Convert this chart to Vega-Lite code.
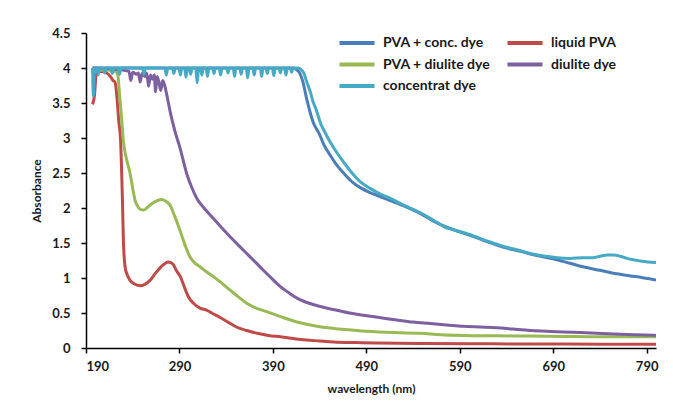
{
  "$schema": "https://vega.github.io/schema/vega-lite/v6.json",
  "width": 570,
  "height": 315,
  "autosize": {"type": "none"},
  "padding": {"left": 86, "top": 33, "right": 17, "bottom": 60},
  "background": "white",
  "config": {
    "view": {"stroke": null},
    "font": "Lato",
    "axis": {
      "grid": false,
      "domainColor": "#000000",
      "domainWidth": 1.5,
      "tickColor": "#000000",
      "tickWidth": 1.5,
      "tickSize": 5,
      "labelFont": "Lato",
      "labelFontWeight": "bold",
      "labelFontSize": 13,
      "labelColor": "#1a1a1a",
      "titleFont": "Lato",
      "titleFontWeight": "bold",
      "titleFontSize": 12,
      "titleColor": "#1a1a1a"
    },
    "legend": {
      "labelFont": "Lato",
      "labelFontWeight": "bold",
      "labelFontSize": 14,
      "labelColor": "#1a1a1a"
    }
  },
  "data": {
    "values": [
      {"series": "PVA + conc. dye", "wl": 197, "abs": 4.0},
      {"series": "PVA + conc. dye", "wl": 230, "abs": 4.0},
      {"series": "PVA + conc. dye", "wl": 300, "abs": 4.0},
      {"series": "PVA + conc. dye", "wl": 380, "abs": 4.0},
      {"series": "PVA + conc. dye", "wl": 412, "abs": 4.0},
      {"series": "PVA + conc. dye", "wl": 416, "abs": 3.97},
      {"series": "PVA + conc. dye", "wl": 419, "abs": 3.92},
      {"series": "PVA + conc. dye", "wl": 422, "abs": 3.81},
      {"series": "PVA + conc. dye", "wl": 426, "abs": 3.57},
      {"series": "PVA + conc. dye", "wl": 433, "abs": 3.23},
      {"series": "PVA + conc. dye", "wl": 440, "abs": 3.05},
      {"series": "PVA + conc. dye", "wl": 444, "abs": 2.92},
      {"series": "PVA + conc. dye", "wl": 451, "abs": 2.76},
      {"series": "PVA + conc. dye", "wl": 458, "abs": 2.62},
      {"series": "PVA + conc. dye", "wl": 467, "abs": 2.48},
      {"series": "PVA + conc. dye", "wl": 476, "abs": 2.36},
      {"series": "PVA + conc. dye", "wl": 485, "abs": 2.28},
      {"series": "PVA + conc. dye", "wl": 494, "abs": 2.22},
      {"series": "PVA + conc. dye", "wl": 505, "abs": 2.16},
      {"series": "PVA + conc. dye", "wl": 515, "abs": 2.11},
      {"series": "PVA + conc. dye", "wl": 530, "abs": 2.03},
      {"series": "PVA + conc. dye", "wl": 548, "abs": 1.92},
      {"series": "PVA + conc. dye", "wl": 565, "abs": 1.79},
      {"series": "PVA + conc. dye", "wl": 583, "abs": 1.69},
      {"series": "PVA + conc. dye", "wl": 601, "abs": 1.61},
      {"series": "PVA + conc. dye", "wl": 619, "abs": 1.52},
      {"series": "PVA + conc. dye", "wl": 637, "abs": 1.44},
      {"series": "PVA + conc. dye", "wl": 655, "abs": 1.38},
      {"series": "PVA + conc. dye", "wl": 669, "abs": 1.33},
      {"series": "PVA + conc. dye", "wl": 694, "abs": 1.26},
      {"series": "PVA + conc. dye", "wl": 708, "abs": 1.21},
      {"series": "PVA + conc. dye", "wl": 722, "abs": 1.16},
      {"series": "PVA + conc. dye", "wl": 740, "abs": 1.11},
      {"series": "PVA + conc. dye", "wl": 758, "abs": 1.06},
      {"series": "PVA + conc. dye", "wl": 778, "abs": 1.02},
      {"series": "PVA + conc. dye", "wl": 800, "abs": 0.97},

      {"series": "liquid PVA", "wl": 197, "abs": 3.48},
      {"series": "liquid PVA", "wl": 199, "abs": 3.6},
      {"series": "liquid PVA", "wl": 201, "abs": 3.92},
      {"series": "liquid PVA", "wl": 206, "abs": 3.95},
      {"series": "liquid PVA", "wl": 212, "abs": 3.93},
      {"series": "liquid PVA", "wl": 216, "abs": 3.88},
      {"series": "liquid PVA", "wl": 219, "abs": 3.82},
      {"series": "liquid PVA", "wl": 221, "abs": 3.8},
      {"series": "liquid PVA", "wl": 223, "abs": 3.6},
      {"series": "liquid PVA", "wl": 225, "abs": 3.25},
      {"series": "liquid PVA", "wl": 227, "abs": 2.97},
      {"series": "liquid PVA", "wl": 228.2, "abs": 2.5},
      {"series": "liquid PVA", "wl": 229.2, "abs": 2.0},
      {"series": "liquid PVA", "wl": 230, "abs": 1.54},
      {"series": "liquid PVA", "wl": 231.8, "abs": 1.16},
      {"series": "liquid PVA", "wl": 234, "abs": 1.05},
      {"series": "liquid PVA", "wl": 237, "abs": 0.97},
      {"series": "liquid PVA", "wl": 241, "abs": 0.92},
      {"series": "liquid PVA", "wl": 248, "abs": 0.89},
      {"series": "liquid PVA", "wl": 253, "abs": 0.91},
      {"series": "liquid PVA", "wl": 258, "abs": 0.96},
      {"series": "liquid PVA", "wl": 265, "abs": 1.08},
      {"series": "liquid PVA", "wl": 272, "abs": 1.18},
      {"series": "liquid PVA", "wl": 278, "abs": 1.23},
      {"series": "liquid PVA", "wl": 283, "abs": 1.2},
      {"series": "liquid PVA", "wl": 287, "abs": 1.1},
      {"series": "liquid PVA", "wl": 291, "abs": 1.02},
      {"series": "liquid PVA", "wl": 295, "abs": 0.88},
      {"series": "liquid PVA", "wl": 300, "abs": 0.72},
      {"series": "liquid PVA", "wl": 305, "abs": 0.64},
      {"series": "liquid PVA", "wl": 312, "abs": 0.57},
      {"series": "liquid PVA", "wl": 319, "abs": 0.54},
      {"series": "liquid PVA", "wl": 326, "abs": 0.49},
      {"series": "liquid PVA", "wl": 333, "abs": 0.44},
      {"series": "liquid PVA", "wl": 342, "abs": 0.37},
      {"series": "liquid PVA", "wl": 351, "abs": 0.30},
      {"series": "liquid PVA", "wl": 362, "abs": 0.25},
      {"series": "liquid PVA", "wl": 373, "abs": 0.21},
      {"series": "liquid PVA", "wl": 385, "abs": 0.18},
      {"series": "liquid PVA", "wl": 398, "abs": 0.16},
      {"series": "liquid PVA", "wl": 420, "abs": 0.12},
      {"series": "liquid PVA", "wl": 440, "abs": 0.1},
      {"series": "liquid PVA", "wl": 455, "abs": 0.086},
      {"series": "liquid PVA", "wl": 480, "abs": 0.077},
      {"series": "liquid PVA", "wl": 500, "abs": 0.072},
      {"series": "liquid PVA", "wl": 548, "abs": 0.063},
      {"series": "liquid PVA", "wl": 600, "abs": 0.06},
      {"series": "liquid PVA", "wl": 650, "abs": 0.058},
      {"series": "liquid PVA", "wl": 700, "abs": 0.056},
      {"series": "liquid PVA", "wl": 750, "abs": 0.055},
      {"series": "liquid PVA", "wl": 800, "abs": 0.055},

      {"series": "PVA + diulite dye", "wl": 197, "abs": 3.95},
      {"series": "PVA + diulite dye", "wl": 210, "abs": 3.97},
      {"series": "PVA + diulite dye", "wl": 222, "abs": 3.95},
      {"series": "PVA + diulite dye", "wl": 224, "abs": 3.9},
      {"series": "PVA + diulite dye", "wl": 226, "abs": 3.6},
      {"series": "PVA + diulite dye", "wl": 228, "abs": 3.3},
      {"series": "PVA + diulite dye", "wl": 229.9, "abs": 2.97},
      {"series": "PVA + diulite dye", "wl": 233, "abs": 2.72},
      {"series": "PVA + diulite dye", "wl": 237.1, "abs": 2.5},
      {"series": "PVA + diulite dye", "wl": 240, "abs": 2.28},
      {"series": "PVA + diulite dye", "wl": 242.5, "abs": 2.11},
      {"series": "PVA + diulite dye", "wl": 245, "abs": 2.03},
      {"series": "PVA + diulite dye", "wl": 248, "abs": 1.98},
      {"series": "PVA + diulite dye", "wl": 252, "abs": 1.97},
      {"series": "PVA + diulite dye", "wl": 255, "abs": 2.0},
      {"series": "PVA + diulite dye", "wl": 258.5, "abs": 2.04},
      {"series": "PVA + diulite dye", "wl": 264, "abs": 2.09},
      {"series": "PVA + diulite dye", "wl": 271, "abs": 2.12},
      {"series": "PVA + diulite dye", "wl": 275, "abs": 2.1},
      {"series": "PVA + diulite dye", "wl": 280, "abs": 2.04},
      {"series": "PVA + diulite dye", "wl": 285, "abs": 1.88},
      {"series": "PVA + diulite dye", "wl": 290.6, "abs": 1.68},
      {"series": "PVA + diulite dye", "wl": 296, "abs": 1.47},
      {"series": "PVA + diulite dye", "wl": 301.3, "abs": 1.30},
      {"series": "PVA + diulite dye", "wl": 306, "abs": 1.22},
      {"series": "PVA + diulite dye", "wl": 312, "abs": 1.16},
      {"series": "PVA + diulite dye", "wl": 319, "abs": 1.09},
      {"series": "PVA + diulite dye", "wl": 326.3, "abs": 1.02},
      {"series": "PVA + diulite dye", "wl": 335, "abs": 0.93},
      {"series": "PVA + diulite dye", "wl": 344, "abs": 0.83},
      {"series": "PVA + diulite dye", "wl": 353, "abs": 0.73},
      {"series": "PVA + diulite dye", "wl": 362, "abs": 0.64},
      {"series": "PVA + diulite dye", "wl": 372, "abs": 0.57},
      {"series": "PVA + diulite dye", "wl": 383.5, "abs": 0.52},
      {"series": "PVA + diulite dye", "wl": 400, "abs": 0.44},
      {"series": "PVA + diulite dye", "wl": 419, "abs": 0.36},
      {"series": "PVA + diulite dye", "wl": 437, "abs": 0.31},
      {"series": "PVA + diulite dye", "wl": 455, "abs": 0.28},
      {"series": "PVA + diulite dye", "wl": 472, "abs": 0.26},
      {"series": "PVA + diulite dye", "wl": 490, "abs": 0.24},
      {"series": "PVA + diulite dye", "wl": 520, "abs": 0.22},
      {"series": "PVA + diulite dye", "wl": 548, "abs": 0.21},
      {"series": "PVA + diulite dye", "wl": 570, "abs": 0.19},
      {"series": "PVA + diulite dye", "wl": 594, "abs": 0.18},
      {"series": "PVA + diulite dye", "wl": 630, "abs": 0.175},
      {"series": "PVA + diulite dye", "wl": 665, "abs": 0.17},
      {"series": "PVA + diulite dye", "wl": 700, "abs": 0.165},
      {"series": "PVA + diulite dye", "wl": 737, "abs": 0.16},
      {"series": "PVA + diulite dye", "wl": 770, "abs": 0.16},
      {"series": "PVA + diulite dye", "wl": 800, "abs": 0.16},

      {"series": "diulite dye", "wl": 197, "abs": 4.0},
      {"series": "diulite dye", "wl": 230, "abs": 3.97},
      {"series": "diulite dye", "wl": 236, "abs": 3.95},
      {"series": "diulite dye", "wl": 238, "abs": 3.82},
      {"series": "diulite dye", "wl": 240, "abs": 3.94},
      {"series": "diulite dye", "wl": 244, "abs": 3.91},
      {"series": "diulite dye", "wl": 246, "abs": 3.93},
      {"series": "diulite dye", "wl": 248, "abs": 3.8},
      {"series": "diulite dye", "wl": 250, "abs": 3.92},
      {"series": "diulite dye", "wl": 253, "abs": 3.88},
      {"series": "diulite dye", "wl": 255, "abs": 3.93},
      {"series": "diulite dye", "wl": 257, "abs": 3.74},
      {"series": "diulite dye", "wl": 259, "abs": 3.9},
      {"series": "diulite dye", "wl": 261, "abs": 3.84},
      {"series": "diulite dye", "wl": 263, "abs": 3.9},
      {"series": "diulite dye", "wl": 264.5, "abs": 3.66},
      {"series": "diulite dye", "wl": 266, "abs": 3.88},
      {"series": "diulite dye", "wl": 268, "abs": 3.8},
      {"series": "diulite dye", "wl": 270, "abs": 3.68},
      {"series": "diulite dye", "wl": 272, "abs": 3.82},
      {"series": "diulite dye", "wl": 274, "abs": 3.76},
      {"series": "diulite dye", "wl": 276.4, "abs": 3.62},
      {"series": "diulite dye", "wl": 280, "abs": 3.38},
      {"series": "diulite dye", "wl": 285.3, "abs": 3.09},
      {"series": "diulite dye", "wl": 290.6, "abs": 2.86},
      {"series": "diulite dye", "wl": 297.8, "abs": 2.49},
      {"series": "diulite dye", "wl": 303, "abs": 2.3},
      {"series": "diulite dye", "wl": 308.5, "abs": 2.14},
      {"series": "diulite dye", "wl": 317, "abs": 1.99},
      {"series": "diulite dye", "wl": 326.3, "abs": 1.85},
      {"series": "diulite dye", "wl": 335, "abs": 1.72},
      {"series": "diulite dye", "wl": 344.2, "abs": 1.59},
      {"series": "diulite dye", "wl": 353, "abs": 1.47},
      {"series": "diulite dye", "wl": 362, "abs": 1.35},
      {"series": "diulite dye", "wl": 371, "abs": 1.23},
      {"series": "diulite dye", "wl": 379.8, "abs": 1.11},
      {"series": "diulite dye", "wl": 389, "abs": 0.99},
      {"series": "diulite dye", "wl": 397.7, "abs": 0.88},
      {"series": "diulite dye", "wl": 408, "abs": 0.78},
      {"series": "diulite dye", "wl": 419, "abs": 0.69},
      {"series": "diulite dye", "wl": 436, "abs": 0.61},
      {"series": "diulite dye", "wl": 454.5, "abs": 0.55},
      {"series": "diulite dye", "wl": 472, "abs": 0.5},
      {"series": "diulite dye", "wl": 490.5, "abs": 0.46},
      {"series": "diulite dye", "wl": 507, "abs": 0.43},
      {"series": "diulite dye", "wl": 522.7, "abs": 0.40},
      {"series": "diulite dye", "wl": 540, "abs": 0.37},
      {"series": "diulite dye", "wl": 558.3, "abs": 0.35},
      {"series": "diulite dye", "wl": 576, "abs": 0.33},
      {"series": "diulite dye", "wl": 593.6, "abs": 0.31},
      {"series": "diulite dye", "wl": 612, "abs": 0.30},
      {"series": "diulite dye", "wl": 629.7, "abs": 0.29},
      {"series": "diulite dye", "wl": 647, "abs": 0.27},
      {"series": "diulite dye", "wl": 665.4, "abs": 0.25},
      {"series": "diulite dye", "wl": 683, "abs": 0.24},
      {"series": "diulite dye", "wl": 700.7, "abs": 0.23},
      {"series": "diulite dye", "wl": 719, "abs": 0.22},
      {"series": "diulite dye", "wl": 736.8, "abs": 0.21},
      {"series": "diulite dye", "wl": 755, "abs": 0.20},
      {"series": "diulite dye", "wl": 777, "abs": 0.19},
      {"series": "diulite dye", "wl": 800, "abs": 0.18},

      {"series": "concentrat dye", "wl": 197, "abs": 4.0},
      {"series": "concentrat dye", "wl": 198, "abs": 3.6},
      {"series": "concentrat dye", "wl": 199, "abs": 4.0},
      {"series": "concentrat dye", "wl": 201.5, "abs": 4.0},
      {"series": "concentrat dye", "wl": 203, "abs": 3.9},
      {"series": "concentrat dye", "wl": 204.5, "abs": 4.0},
      {"series": "concentrat dye", "wl": 208.5, "abs": 4.0},
      {"series": "concentrat dye", "wl": 210, "abs": 3.93},
      {"series": "concentrat dye", "wl": 211.5, "abs": 4.0},
      {"series": "concentrat dye", "wl": 216.5, "abs": 4.0},
      {"series": "concentrat dye", "wl": 218, "abs": 3.92},
      {"series": "concentrat dye", "wl": 219.5, "abs": 4.0},
      {"series": "concentrat dye", "wl": 224.5, "abs": 4.0},
      {"series": "concentrat dye", "wl": 226, "abs": 3.91},
      {"series": "concentrat dye", "wl": 227.5, "abs": 4.0},
      {"series": "concentrat dye", "wl": 250.5, "abs": 4.0},
      {"series": "concentrat dye", "wl": 252, "abs": 3.91},
      {"series": "concentrat dye", "wl": 253.5, "abs": 4.0},
      {"series": "concentrat dye", "wl": 274.5, "abs": 4.0},
      {"series": "concentrat dye", "wl": 276, "abs": 3.9},
      {"series": "concentrat dye", "wl": 277.5, "abs": 4.0},
      {"series": "concentrat dye", "wl": 282.5, "abs": 4.0},
      {"series": "concentrat dye", "wl": 284, "abs": 3.92},
      {"series": "concentrat dye", "wl": 285.5, "abs": 4.0},
      {"series": "concentrat dye", "wl": 289.5, "abs": 4.0},
      {"series": "concentrat dye", "wl": 291, "abs": 3.9},
      {"series": "concentrat dye", "wl": 292.5, "abs": 4.0},
      {"series": "concentrat dye", "wl": 295.5, "abs": 4.0},
      {"series": "concentrat dye", "wl": 297, "abs": 3.87},
      {"series": "concentrat dye", "wl": 298.5, "abs": 4.0},
      {"series": "concentrat dye", "wl": 300.5, "abs": 4.0},
      {"series": "concentrat dye", "wl": 302, "abs": 3.91},
      {"series": "concentrat dye", "wl": 303.5, "abs": 4.0},
      {"series": "concentrat dye", "wl": 307.5, "abs": 4.0},
      {"series": "concentrat dye", "wl": 309, "abs": 3.79},
      {"series": "concentrat dye", "wl": 310.5, "abs": 4.0},
      {"series": "concentrat dye", "wl": 312.5, "abs": 4.0},
      {"series": "concentrat dye", "wl": 314, "abs": 3.9},
      {"series": "concentrat dye", "wl": 315.5, "abs": 4.0},
      {"series": "concentrat dye", "wl": 318.5, "abs": 4.0},
      {"series": "concentrat dye", "wl": 320, "abs": 3.88},
      {"series": "concentrat dye", "wl": 321.5, "abs": 4.0},
      {"series": "concentrat dye", "wl": 325.5, "abs": 4.0},
      {"series": "concentrat dye", "wl": 327, "abs": 3.92},
      {"series": "concentrat dye", "wl": 328.5, "abs": 4.0},
      {"series": "concentrat dye", "wl": 332.5, "abs": 4.0},
      {"series": "concentrat dye", "wl": 334, "abs": 3.9},
      {"series": "concentrat dye", "wl": 335.5, "abs": 4.0},
      {"series": "concentrat dye", "wl": 340.5, "abs": 4.0},
      {"series": "concentrat dye", "wl": 342, "abs": 3.93},
      {"series": "concentrat dye", "wl": 343.5, "abs": 4.0},
      {"series": "concentrat dye", "wl": 347.5, "abs": 4.0},
      {"series": "concentrat dye", "wl": 349, "abs": 3.88},
      {"series": "concentrat dye", "wl": 350.5, "abs": 4.0},
      {"series": "concentrat dye", "wl": 354.5, "abs": 4.0},
      {"series": "concentrat dye", "wl": 356, "abs": 3.91},
      {"series": "concentrat dye", "wl": 357.5, "abs": 4.0},
      {"series": "concentrat dye", "wl": 361.5, "abs": 4.0},
      {"series": "concentrat dye", "wl": 363, "abs": 3.86},
      {"series": "concentrat dye", "wl": 364.5, "abs": 4.0},
      {"series": "concentrat dye", "wl": 368.5, "abs": 4.0},
      {"series": "concentrat dye", "wl": 370, "abs": 3.9},
      {"series": "concentrat dye", "wl": 371.5, "abs": 4.0},
      {"series": "concentrat dye", "wl": 376.5, "abs": 4.0},
      {"series": "concentrat dye", "wl": 378, "abs": 3.88},
      {"series": "concentrat dye", "wl": 379.5, "abs": 4.0},
      {"series": "concentrat dye", "wl": 382.5, "abs": 4.0},
      {"series": "concentrat dye", "wl": 384, "abs": 3.92},
      {"series": "concentrat dye", "wl": 385.5, "abs": 4.0},
      {"series": "concentrat dye", "wl": 389.5, "abs": 4.0},
      {"series": "concentrat dye", "wl": 391, "abs": 3.89},
      {"series": "concentrat dye", "wl": 392.5, "abs": 4.0},
      {"series": "concentrat dye", "wl": 396.5, "abs": 4.0},
      {"series": "concentrat dye", "wl": 398, "abs": 3.93},
      {"series": "concentrat dye", "wl": 399.5, "abs": 4.0},
      {"series": "concentrat dye", "wl": 402.5, "abs": 4.0},
      {"series": "concentrat dye", "wl": 404, "abs": 3.9},
      {"series": "concentrat dye", "wl": 405.5, "abs": 4.0},
      {"series": "concentrat dye", "wl": 408.5, "abs": 4.0},
      {"series": "concentrat dye", "wl": 410, "abs": 3.94},
      {"series": "concentrat dye", "wl": 411.5, "abs": 4.0},
      {"series": "concentrat dye", "wl": 417, "abs": 4.0},
      {"series": "concentrat dye", "wl": 420, "abs": 3.98},
      {"series": "concentrat dye", "wl": 423, "abs": 3.93},
      {"series": "concentrat dye", "wl": 426, "abs": 3.81},
      {"series": "concentrat dye", "wl": 430, "abs": 3.66},
      {"series": "concentrat dye", "wl": 433, "abs": 3.52},
      {"series": "concentrat dye", "wl": 437, "abs": 3.38},
      {"series": "concentrat dye", "wl": 440.5, "abs": 3.23},
      {"series": "concentrat dye", "wl": 445, "abs": 3.1},
      {"series": "concentrat dye", "wl": 451, "abs": 2.95},
      {"series": "concentrat dye", "wl": 458, "abs": 2.8},
      {"series": "concentrat dye", "wl": 465.5, "abs": 2.66},
      {"series": "concentrat dye", "wl": 474, "abs": 2.51},
      {"series": "concentrat dye", "wl": 483, "abs": 2.38},
      {"series": "concentrat dye", "wl": 494, "abs": 2.28},
      {"series": "concentrat dye", "wl": 505, "abs": 2.2},
      {"series": "concentrat dye", "wl": 515, "abs": 2.14},
      {"series": "concentrat dye", "wl": 530, "abs": 2.04},
      {"series": "concentrat dye", "wl": 548, "abs": 1.93},
      {"series": "concentrat dye", "wl": 556, "abs": 1.87},
      {"series": "concentrat dye", "wl": 565, "abs": 1.8},
      {"series": "concentrat dye", "wl": 575, "abs": 1.72},
      {"series": "concentrat dye", "wl": 583, "abs": 1.69},
      {"series": "concentrat dye", "wl": 601, "abs": 1.62},
      {"series": "concentrat dye", "wl": 619, "abs": 1.53},
      {"series": "concentrat dye", "wl": 637, "abs": 1.45},
      {"series": "concentrat dye", "wl": 655, "abs": 1.39},
      {"series": "concentrat dye", "wl": 669, "abs": 1.34},
      {"series": "concentrat dye", "wl": 682, "abs": 1.31},
      {"series": "concentrat dye", "wl": 694, "abs": 1.29},
      {"series": "concentrat dye", "wl": 708, "abs": 1.28},
      {"series": "concentrat dye", "wl": 722, "abs": 1.29},
      {"series": "concentrat dye", "wl": 732, "abs": 1.29},
      {"series": "concentrat dye", "wl": 740, "abs": 1.31},
      {"series": "concentrat dye", "wl": 748, "abs": 1.33},
      {"series": "concentrat dye", "wl": 755, "abs": 1.33},
      {"series": "concentrat dye", "wl": 762, "abs": 1.31},
      {"series": "concentrat dye", "wl": 769, "abs": 1.28},
      {"series": "concentrat dye", "wl": 785, "abs": 1.24},
      {"series": "concentrat dye", "wl": 800, "abs": 1.22}
    ]
  },
  "mark": {"type": "line", "strokeWidth": 3, "interpolate": "monotone", "clip": true},
  "encoding": {
    "x": {
      "field": "wl",
      "type": "quantitative",
      "scale": {"domain": [190, 800], "nice": false, "zero": false},
      "axis": {"values": [190, 290, 390, 490, 590, 690, 790], "title": "wavelength (nm)", "labelPadding": 7, "titlePadding": 10}
    },
    "y": {
      "field": "abs",
      "type": "quantitative",
      "scale": {"domain": [0, 4.5], "nice": false},
      "axis": {"values": [0, 0.5, 1, 1.5, 2, 2.5, 3, 3.5, 4, 4.5], "format": "~g", "title": "Absorbance", "labelPadding": 11, "titlePadding": 8}
    },
    "color": {
      "field": "series",
      "type": "nominal",
      "scale": {
        "domain": ["PVA + conc. dye", "liquid PVA", "PVA + diulite dye", "diulite dye", "concentrat dye"],
        "range": ["#4A7EBB", "#BE4B48", "#98B954", "#7D60A0", "#46AAC5"]
      },
      "legend": {
        "title": null,
        "orient": "none",
        "legendX": 262,
        "legendY": 1,
        "columns": 2,
        "direction": "horizontal",
        "symbolType": "M-2.5,0H2.5",
        "symbolSize": 196,
        "symbolStrokeWidth": 4,
        "labelOffset": 17,
        "rowPadding": 4.5,
        "columnPadding": 8
      }
    }
  }
}
